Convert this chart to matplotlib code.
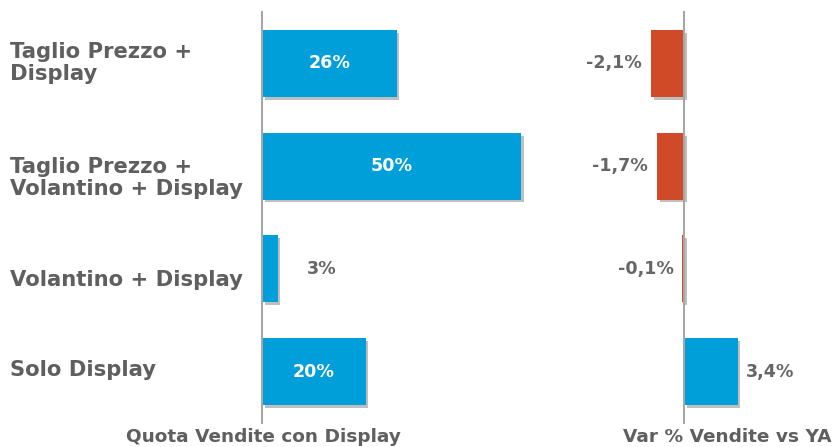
import matplotlib
matplotlib.use("Agg")
import matplotlib.pyplot as plt
import matplotlib.patheffects as pe

categories = ["Taglio Prezzo +\nDisplay", "Taglio Prezzo +\nVolantino + Display",
              "Volantino + Display", "Solo Display"]
quota = [26, 50, 3, 20]
quota_labels = ["26%", "50%", "3%", "20%"]
var = [-2.1, -1.7, -0.1, 3.4]
var_labels = ["-2,1%", "-1,7%", "-0,1%", "3,4%"]

BLUE = "#009FDA"
RED = "#D04A28"
GRAY = "#666666"
AXC = "#A6A6A6"

W, H = 837, 447
fig = plt.figure(figsize=(W / 100, H / 100), dpi=100)
plt.rcParams['font.family'] = ['DejaVu Sans']

def fx(px):
    return px / W

def fy(py):
    return 1 - py / H

# axes vertical extent: top 12px, bottom 423px
ax_b = fy(423)
ax_h = (423 - 12) / H

# Left panel: 0 at 262px, 5.18 px per %
lx0, lppu = 262, 5.18
lxlim = (0, 60)
ax1 = fig.add_axes([fx(lx0), ax_b, fx(lppu * (lxlim[1] - lxlim[0])), ax_h])
# Right panel: 0 at 684px, 15.8 px per unit
rx0, rppu = 684, 15.8
rxlim = (-3, 6)
ax2 = fig.add_axes([fx(rx0 + rxlim[0] * rppu), ax_b, fx(rppu * (rxlim[1] - rxlim[0])), ax_h])

ypos = list(range(len(categories)))
shadow = [pe.SimplePatchShadow(offset=(2, -2), shadow_rgbFace="#808080", alpha=0.5), pe.Normal()]

bars1 = ax1.barh(ypos, quota, height=0.65, color=BLUE, zorder=3)
colors2 = [RED if v < 0 else BLUE for v in var]
bars2 = ax2.barh(ypos, var, height=0.65, color=colors2, zorder=3)
for b in list(bars1) + list(bars2):
    b.set_path_effects(shadow)

for ax, xl in ((ax1, lxlim), (ax2, rxlim)):
    ax.set_xlim(*xl)
    ax.set_ylim(len(categories) - 0.5, -0.5)
    for s in ("top", "right", "bottom"):
        ax.spines[s].set_visible(False)
    ax.spines["left"].set_position(("data", 0))
    ax.spines["left"].set_color(AXC)
    ax.spines["left"].set_linewidth(1.5)
    ax.spines["left"].set_zorder(4)
    ax.set_xticks([])
    ax.set_yticks([])
    ax.patch.set_alpha(0)

VFS = 12.6
# value labels, left panel
for y, v, lab in zip(ypos, quota, quota_labels):
    if v >= 8:
        ax1.text(v / 2, y, lab, ha="center", va="center", color="white",
                 fontsize=VFS, fontweight="bold", zorder=5)
    else:
        ax1.annotate(lab, (v, y), xytext=(44, 0), textcoords="offset pixels",
                     ha="center", va="center", color=GRAY, fontsize=VFS, fontweight="bold")

# value labels, right panel
for y, v, lab in zip(ypos, var, var_labels):
    if v < 0:
        ax2.annotate(lab, (v, y), xytext=(-9, 0), textcoords="offset pixels",
                     ha="right", va="center", color=GRAY, fontsize=VFS, fontweight="bold")
    else:
        ax2.annotate(lab, (v, y), xytext=(8, 0), textcoords="offset pixels",
                     ha="left", va="center", color=GRAY, fontsize=VFS, fontweight="bold")

# category labels
label_dy = [0, -12, -11, 2]
for y, lab, dy in zip(ypos, categories, label_dy):
    ax1.annotate(lab, (0, y), xycoords=("figure fraction", "data"),
                 xytext=(10, dy), textcoords="offset pixels",
                 ha="left", va="center", color="#5F5F5F", fontsize=15.2,
                 fontweight="bold", linespacing=1.12)

fig.text(fx(263), fy(437), "Quota Vendite con Display", ha="center", va="center",
         color="#5F5F5F", fontsize=13.3, fontweight="bold")
fig.text(fx(727), fy(437), "Var % Vendite vs YA", ha="center", va="center",
         color="#5F5F5F", fontsize=13.3, fontweight="bold")

fig.savefig("out.png", dpi=100)
